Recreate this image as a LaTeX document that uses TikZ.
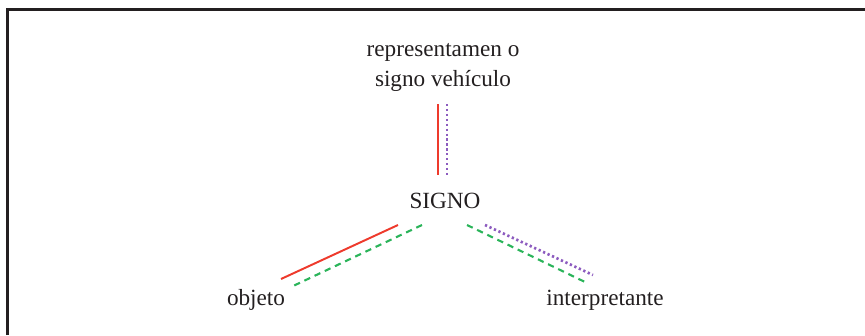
\documentclass[tikz,border=0pt]{standalone}
\usepackage{fontspec}
\setmainfont{Liberation Serif}
\usetikzlibrary{positioning}
\definecolor{ink}{HTML}{231F20}
\definecolor{linkred}{HTML}{EE3A2C}
\definecolor{linkgreen}{HTML}{2BB45A}
\definecolor{linkpurple}{HTML}{8C5BBF}
\tikzset{
  term/.style={inner sep=0pt,text=ink,font=\fontsize{16.5}{21.3}\selectfont},
  frameline/.style={line width=2pt,draw=ink},
  redlink/.style={line width=1.4pt,draw=linkred},
  greenlink/.style={line width=1.5pt,draw=linkgreen,dash pattern=on 4.5pt off 3.5pt},
  purplelink/.style={line width=1.9pt,draw=linkpurple,dash pattern=on 1.6pt off 1.9pt}
}
\begin{document}
\begin{tikzpicture}[x=0.025cm,y=-0.025cm]
    \useasboundingbox (0,0) rectangle (865,335);
    \draw[frameline] (7.5,335) -- (7.5,9.5) -- (865,9.5);
    % terms
    \node[term,align=center] (rep) at (443,67) {representamen o\\signo vehículo};
    \node[term,anchor=base] (sig) at (445,208) {SIGNO};
    \node[term,anchor=base] (obj) at (256,305) {objeto};
    \node[term,anchor=base] (int) at (605,305) {interpretante};
    % line ends
    \coordinate (rep-r) at (438,104);
    \coordinate (rep-p) at (447,104);
    \coordinate (sig-tr) at (438,175);
    \coordinate (sig-tp) at (447,175);
    \coordinate (sig-lr) at (398,225);
    \coordinate (sig-lg) at (422,225);
    \coordinate (sig-rg) at (467,225);
    \coordinate (sig-rp) at (485,225);
    \coordinate (obj-r) at (281,279);
    \coordinate (obj-g) at (291,287);
    \coordinate (int-g) at (585,282);
    \coordinate (int-p) at (593,275);
    % relations
    \draw[redlink] (rep-r) -- (sig-tr);
    \draw[purplelink] (rep-p) -- (sig-tp);
    \draw[redlink] (sig-lr) -- (obj-r);
    \draw[greenlink] (sig-lg) -- (obj-g);
    \draw[greenlink] (sig-rg) -- (int-g);
    \draw[purplelink] (sig-rp) -- (int-p);
\end{tikzpicture}
\end{document}
